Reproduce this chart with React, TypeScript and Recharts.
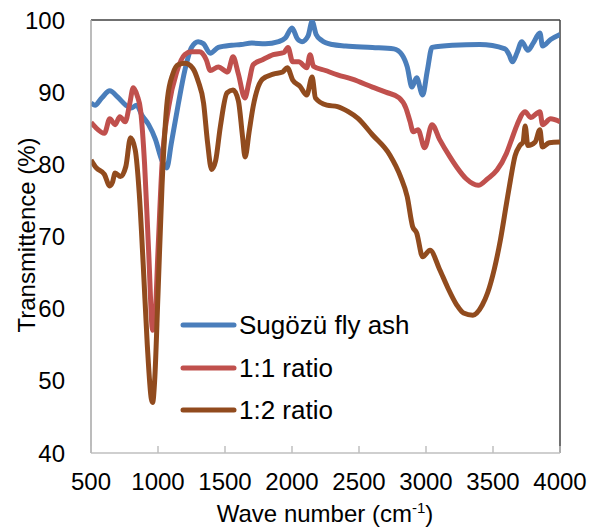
import React from 'react';
import { LineChart, Line, XAxis, YAxis, ReferenceLine, Legend, Label } from 'recharts';

const waveTicks = [500, 1000, 1500, 2000, 2500, 3000, 3500, 4000];
const transTicks = [40, 50, 60, 70, 80, 90, 100];

// Sugözü fly ash
const ashWave = [500, 530, 580, 640, 700, 760, 800, 840, 880, 930, 980, 1030, 1065, 1100, 1150, 1200, 1250, 1300, 1340, 1390, 1450, 1550, 1620, 1700, 1800, 1900, 1950, 2000, 2040, 2075, 2120, 2150, 2180, 2220, 2300, 2400, 2600, 2760, 2820, 2860, 2895, 2930, 2975, 3010, 3045, 3200, 3400, 3590, 3620, 3645, 3680, 3715, 3760, 3800, 3850, 3870, 3930, 4000];
const ashT = [88.5, 88.2, 89.2, 90.2, 89.3, 88.2, 87.8, 88.2, 86.8, 85.5, 83.5, 80.5, 79.5, 83, 88.2, 93, 96.2, 97, 96.7, 95.4, 96.2, 96.5, 96.6, 96.8, 96.7, 97, 97.5, 98.9, 97.4, 97, 97.8, 99.8, 98, 97.2, 96.6, 96.4, 96.2, 96, 95.2, 93.5, 90.7, 92, 89.6, 93, 96.2, 96.5, 96.6, 96, 95.2, 94.2, 95.5, 97, 95.8, 96.8, 98.2, 96.4, 97.3, 98];

// 1:1 ratio
const r11Wave = [500, 530, 600, 640, 680, 715, 755, 790, 815, 845, 870, 900, 930, 960, 975, 1000, 1030, 1080, 1140, 1200, 1250, 1310, 1360, 1390, 1450, 1520, 1560, 1600, 1648, 1680, 1710, 1780, 1860, 1940, 1970, 2005, 2050, 2110, 2135, 2160, 2250, 2340, 2450, 2600, 2700, 2800, 2850, 2880, 2905, 2940, 2990, 3045, 3100, 3180, 3230, 3300, 3390, 3460, 3530, 3600, 3640, 3680, 3740, 3780, 3850, 3870, 3930, 4000];
const r11T = [85.8, 85.2, 84.3, 86.3, 85.5, 86.6, 85.9, 88.5, 90.6, 89.5, 87.5, 80, 68, 57, 58, 68, 80, 88, 92.8, 95.2, 95.6, 95.6, 94.5, 93, 93.5, 92.8, 94.9, 92.5, 89.2, 91.5, 93.8, 94.5, 95.2, 95.5, 96.2, 94.2, 94.2, 93.4, 95.2, 93.6, 93, 92.4, 91.8, 90.7, 90, 89.2, 87.8, 86, 84.5, 84.8, 82.3, 85.5, 83.5, 81, 79.6, 78, 77.1, 78, 79.2, 81.5, 83.5, 85.5, 87.3, 86.5, 87.3, 85.5, 86.3, 85.9];

// 1:2 ratio
const r12Wave = [500, 540, 600, 640, 660, 680, 720, 760, 795, 830, 860, 890, 920, 950, 960, 975, 1000, 1030, 1070, 1110, 1150, 1200, 1260, 1300, 1340, 1370, 1400, 1430, 1465, 1515, 1560, 1600, 1630, 1650, 1680, 1710, 1780, 1860, 1930, 1965, 2005, 2060, 2110, 2150, 2175, 2260, 2340, 2420, 2490, 2600, 2730, 2810, 2860, 2900, 2930, 2975, 3030, 3100, 3160, 3230, 3280, 3350, 3420, 3460, 3510, 3555, 3600, 3630, 3665, 3700, 3725, 3740, 3760, 3815, 3850, 3868, 3920, 4000];
const r12T = [80.6, 79.5, 78.6, 77, 77.5, 78.8, 78.3, 79.7, 83.7, 82, 76, 66, 55, 47.5, 47, 50, 62, 77, 89, 92.5, 93.8, 94, 93.3, 91.5, 88.5, 83, 79.3, 80.5, 85.2, 89.9, 90.3, 88.8, 84, 81, 84.5, 88, 91.8, 92.5, 92.8, 93.4, 91.7, 90.8, 89.6, 92.1, 89.2, 88.2, 88, 87.3, 86.4, 84.1, 81.3, 78.3, 75.5, 71.4, 70.5, 67.2, 68.1, 65.5, 63, 60.5, 59.4, 59.1, 60.5, 62.2, 65.5, 69.5, 74.5, 77.8, 81.2, 82.6, 83.1, 85.3, 82.6, 83.1, 84.8, 82.4, 83, 83.1];

const toPoints = (wave: number[], t: number[]) => wave.map((w, i) => ({ wave: w, t: t[i] }));

const series = [
  { name: 'Sugözü fly ash', color: '#4A7EBB', data: toPoints(ashWave, ashT) },
  { name: '1:1 ratio', color: '#C0504D', data: toPoints(r11Wave, r11T) },
  { name: '1:2 ratio', color: '#914B1E', data: toPoints(r12Wave, r12T) },
];

const FONT = '"Liberation Sans", Arial, sans-serif';

const XTick = (props: any) => {
  const { x, y, payload } = props;
  return (
    <g>
      <line x1={x} x2={x} y1={y} y2={y - 7} stroke="#bfbfbf" strokeWidth={1.5} />
      <text x={x} y={y + 37} textAnchor="middle" fontSize={24} fontFamily={FONT} fill="#000">
        {payload.value}
      </text>
    </g>
  );
};

const LegendBox = () => (
  <div style={{ fontFamily: FONT, fontSize: 26, color: '#000' }}>
    {series.map((s) => (
      <div key={s.name} style={{ display: 'flex', alignItems: 'center', height: 42.5 }}>
        <svg width={59} height={10}>
          <line x1={3} x2={54} y1={5} y2={5} stroke={s.color} strokeWidth={5} strokeLinecap="round" />
        </svg>
        <span style={{ lineHeight: '26px' }}>{s.name}</span>
      </div>
    ))}
  </div>
);

export default function App() {
  return (
    <div style={{ position: 'absolute', left: 0, top: 0, width: 596, height: 532, background: '#fff' }}>
      <LineChart width={596} height={532} margin={{ top: 20, right: 36, left: 0, bottom: 0 }}>
        <XAxis
          type="number"
          dataKey="wave"
          domain={[500, 4000]}
          ticks={waveTicks}
          allowDataOverflow
          height={79}
          tickSize={0}
          tickMargin={0}
          tick={<XTick />}
          axisLine={{ stroke: '#bfbfbf', strokeWidth: 1.5 }}
        >
          <Label
            content={() => (
              <text x={325} y={522} textAnchor="middle" fontSize={24} fontFamily={FONT} fill="#000">
                Wave number (cm<tspan dy={-9} fontSize={15}>-1</tspan><tspan dy={9}>)</tspan>
              </text>
            )}
          />
        </XAxis>
        <YAxis
          type="number"
          domain={[40, 100]}
          ticks={transTicks}
          allowDataOverflow
          width={91}
          tickLine={false}
          tickSize={0}
          tickMargin={26}
          tick={{ fontSize: 24, fontFamily: FONT, fill: '#000' }}
          axisLine={{ stroke: '#a6a6a6', strokeWidth: 1.5 }}
        >
          <Label
            content={() => (
              <text
                x={26}
                y={235}
                transform="rotate(-90, 26, 235)"
                textAnchor="middle"
                dominantBaseline="central"
                fontSize={24}
                fontFamily={FONT}
                fill="#000"
              >
                Transmittence (%)
              </text>
            )}
          />
        </YAxis>
        <ReferenceLine y={100} stroke="#404040" strokeWidth={1.5} />
        <ReferenceLine x={4000} stroke="#404040" strokeWidth={1.5} />
        {series.map((s) => (
          <Line
            key={s.name}
            data={s.data}
            dataKey="t"
            name={s.name}
            type="monotone"
            stroke={s.color}
            strokeWidth={5}
            dot={false}
            activeDot={false}
            isAnimationActive={false}
          />
        ))}
        <Legend
          layout="vertical"
          align="center"
          verticalAlign="middle"
          content={<LegendBox />}
          wrapperStyle={{ left: 180, top: 304, width: 260, height: 130 }}
        />
      </LineChart>
    </div>
  );
}
